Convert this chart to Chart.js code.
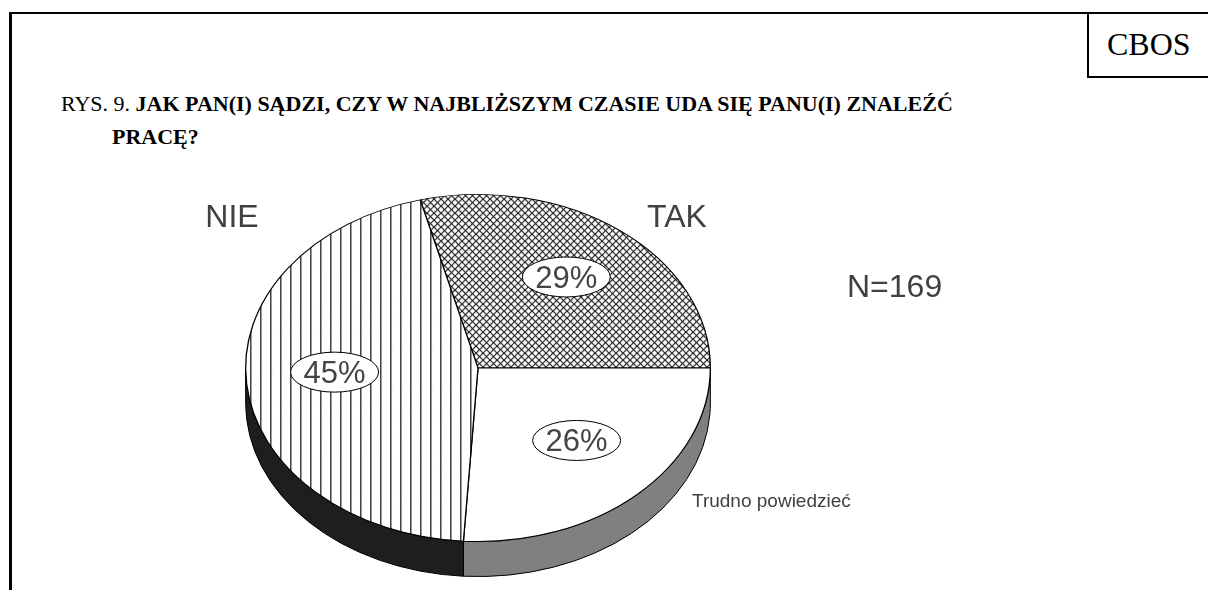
<!DOCTYPE html>
<html>
<head>
<meta charset="utf-8">
<script src="https://cdn.jsdelivr.net/npm/chart.js@4/dist/chart.umd.min.js"></script>
<style>
  body { margin: 0; background: #fff; }
  #wrap { position: relative; width: 1208px; height: 590px; overflow: hidden; }
  #frame { position: absolute; left: 9px; top: 12px; width: 1400px; height: 800px;
           border-top: 2px solid #000; border-left: 3px solid #000; }
  #cbos { position: absolute; left: 1087px; top: 12px; width: 200px; height: 64px;
          border-left: 2px solid #000; border-bottom: 2px solid #000; }
  #cbos span { position: absolute; left: 18px; top: 16px; font: 32px/32px "Liberation Serif", serif; }
  .title { position: absolute; font: 22px/33px "Liberation Serif", serif; white-space: nowrap; }
  .title b { font-weight: bold; }
  canvas { position: absolute; left: 0; top: 0; }
</style>
</head>
<body>
<div id="wrap">
  <div id="frame"></div>
  <div id="cbos"><span>CBOS</span></div>
  <div class="title" style="left:61px; top:87px;">RYS. 9. <b>JAK PAN(I) SĄDZI, CZY W NAJBLIŻSZYM CZASIE UDA SIĘ PANU(I) ZNALEŹĆ</b></div>
  <div class="title" style="left:112px; top:120px;"><b>PRACĘ?</b></div>
  <canvas id="pie" width="1208" height="590"></canvas>
</div>
<script>
const categories = ['TAK', 'Trudno powiedzieć', 'NIE'];
const percents = [29, 26, 45];
const sampleSize = 169;

const tilt = 0.747;   // squash of the pie top
const depth = 35;     // height of the side wall
const topY = 368;     // y of the pie centre on the page
const sideColors = ['#3c3c3c', '#808080', '#1e1e1e'];

// fill patterns
function hatchCross() {
  const c = document.createElement('canvas');
  c.width = 7; c.height = 7;
  const g = c.getContext('2d');
  g.fillStyle = '#fff'; g.fillRect(0, 0, 7, 7);
  g.strokeStyle = '#1e1e1e'; g.lineWidth = 1.2;
  g.beginPath();
  g.moveTo(-1, -1); g.lineTo(8, 8);
  g.moveTo(8, -1); g.lineTo(-1, 8);
  g.stroke();
  const p = document.getElementById('pie').getContext('2d').createPattern(c, 'repeat');
  p.setTransform(new DOMMatrix().scale(1, 1 / tilt));
  return p;
}
function hatchVertical() {
  const c = document.createElement('canvas');
  c.width = 10; c.height = 10;
  const g = c.getContext('2d');
  g.fillStyle = '#fff'; g.fillRect(0, 0, 10, 10);
  g.fillStyle = '#444'; g.fillRect(0, 0, 1, 10);
  g.fillStyle = '#999'; g.fillRect(1, 0, 1, 10);
  return document.getElementById('pie').getContext('2d').createPattern(c, 'repeat');
}

const pie3d = {
  id: 'pie3d',
  beforeDatasetsDraw(chart) {
    const ctx = chart.ctx;
    const arcs = chart.getDatasetMeta(0).data;
    const cx = arcs[0].x, cy = arcs[0].y, r = arcs[0].outerRadius;
    ctx.save();
    ctx.lineWidth = 1;
    ctx.strokeStyle = '#000';
    arcs.forEach((arc, i) => {
      [[0, Math.PI], [2 * Math.PI, 3 * Math.PI]].forEach(([lo, hi]) => {
        const a = Math.max(arc.startAngle, lo), b = Math.min(arc.endAngle, hi);
        if (b <= a) return;
        ctx.beginPath();
        ctx.ellipse(cx, topY, r, r * tilt, 0, a, b);
        ctx.lineTo(cx + r * Math.cos(b), topY + r * tilt * Math.sin(b) + depth);
        ctx.ellipse(cx, topY + depth, r, r * tilt, 0, b, a, true);
        ctx.closePath();
        ctx.fillStyle = sideColors[i];
        ctx.fill();
        ctx.stroke();
      });
    });
    ctx.restore();
    // squash the top face
    ctx.save();
    ctx.translate(cx, topY);
    ctx.scale(1, tilt);
    ctx.translate(-cx, -cy);
  },
  afterDatasetsDraw(chart) {
    const ctx = chart.ctx;
    ctx.restore();
    const arcs = chart.getDatasetMeta(0).data;
    ctx.save();
    ctx.font = '31px "Liberation Sans", Arial, sans-serif';
    ctx.textAlign = 'center';
    ctx.textBaseline = 'middle';
    arcs.forEach((arc, i) => {
      const mid = (arc.startAngle + arc.endAngle) / 2;
      const x = arc.x + 0.62 * arc.outerRadius * Math.cos(mid);
      const y = topY + 0.62 * arc.outerRadius * tilt * Math.sin(mid) - 6;
      ctx.beginPath();
      ctx.ellipse(x, y, 44, 20, 0, 0, 2 * Math.PI);
      ctx.fillStyle = '#fff';
      ctx.fill();
      ctx.lineWidth = 1;
      ctx.strokeStyle = '#000';
      ctx.stroke();
      ctx.fillStyle = '#444';
      ctx.fillText(percents[i] + '%', x, y + 2);
    });
    ctx.restore();
  },
  afterDraw(chart) {
    const ctx = chart.ctx;
    ctx.save();
    ctx.fillStyle = '#404040';
    ctx.textBaseline = 'alphabetic';
    ctx.textAlign = 'center';
    ctx.font = '32px "Liberation Sans", Arial, sans-serif';
    ctx.fillText(categories[0], 677, 227);
    ctx.fillText(categories[2], 232, 227);
    ctx.textAlign = 'left';
    ctx.fillText('N=' + sampleSize, 847, 297);
    ctx.font = '19px "Liberation Sans", Arial, sans-serif';
    ctx.fillText(categories[1], 692, 507);
    ctx.restore();
  }
};

new Chart(document.getElementById('pie'), {
  type: 'pie',
  data: {
    labels: categories,
    datasets: [{
      data: percents,
      backgroundColor: [hatchCross(), '#ffffff', hatchVertical()],
      borderColor: '#000',
      borderWidth: 1.3
    }]
  },
  options: {
    responsive: false,
    animation: false,
    rotation: -14.4,
    layout: { padding: { left: 245, right: 497, top: 40, bottom: 84 } },
    plugins: {
      legend: { display: false },
      tooltip: { enabled: false },
      title: { display: false }
    }
  },
  plugins: [pie3d]
});
</script>
</body>
</html>
